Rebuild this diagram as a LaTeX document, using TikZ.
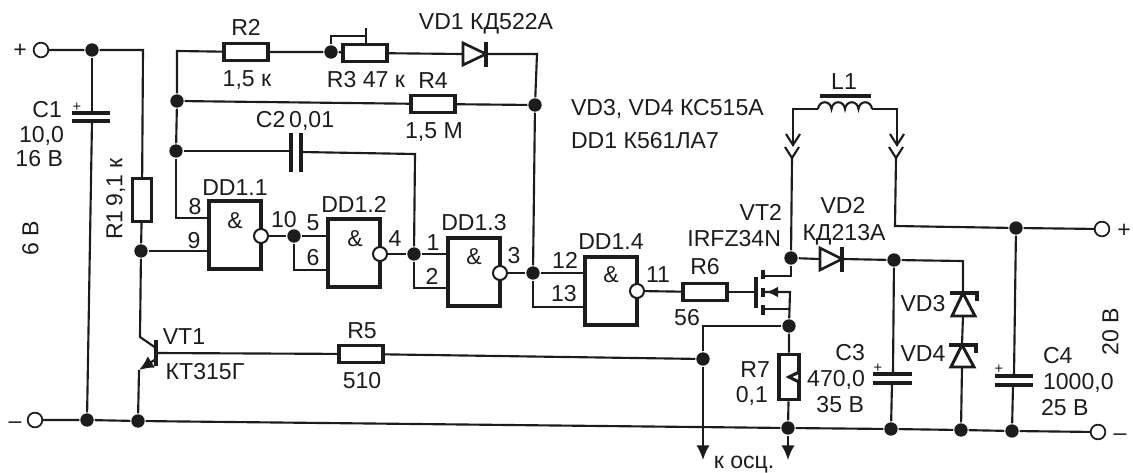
\documentclass[tikz,border=0pt]{standalone}
\usepackage{fontspec}
\setmainfont{Liberation Sans}
\usetikzlibrary{arrows.meta}
\definecolor{ink}{HTML}{1C1C1C}
\begin{document}
\begin{tikzpicture}[x=0.75pt,y=-0.75pt,line width=1.6pt,draw=ink,
    dotnode/.style = {circle, fill=ink, inner sep=0pt, minimum size=10pt},
    termnode/.style = {circle, draw, fill=white, inner sep=0pt, minimum size=11pt, line width=1.3pt},
    bubnode/.style = {circle, draw, fill=white, inner sep=0pt, minimum size=10.5pt, line width=1.5pt},
    resh/.style = {draw, inner sep=0pt, minimum width=33pt, minimum height=13pt, line width=2.4pt},
    resv/.style = {draw, inner sep=0pt, minimum width=14pt, minimum height=32pt, line width=2.4pt},
    gatebox/.style = {draw, inner sep=0pt, minimum width=39pt, minimum height=51pt, line width=2.6pt},
    plate/.style = {line width=2.6pt},
    lbl/.style = {text=ink, inner sep=0pt, font=\fontsize{17.3}{19}\selectfont, text height=12.4pt, text depth=0pt},
    tip/.style = {-{Latex[length=11pt,width=10pt]}}]
    \useasboundingbox (0,0) rectangle (1133,472);

    % terminals and junctions
    \node[termnode] (tpl) at (41,50) {};
    \node[termnode] (tml) at (35,420) {};
    \node[termnode] (tpr) at (1102,229) {};
    \node[termnode] (tmr) at (1098,432) {};
    \node[dotnode] (dc1t) at (92,50) {};
    \node[dotnode] (dc1b) at (87,420) {};
    \node[dotnode] (dr1) at (141,251) {};
    \node[dotnode] (dvt1) at (138,421) {};
    \node[dotnode] (dr3) at (331,52) {};
    \node[dotnode] (dr4) at (177,101) {};
    \node[dotnode] (dc2) at (176,151) {};
    \node[dotnode] (dfb) at (535,105) {};
    \node[dotnode] (dg1) at (294,236) {};
    \node[dotnode] (dg2) at (414,254) {};
    \node[dotnode] (dg3) at (533,273) {};
    \node[dotnode] (dvt2) at (791,258) {};
    \node[dotnode] (ds) at (789,326) {};
    \node[dotnode] (dr5) at (703,359) {};
    \node[dotnode] (dr7) at (788,428) {};
    \node[dotnode] (dc3t) at (894,260) {};
    \node[dotnode] (dc3b) at (891,429) {};
    \node[dotnode] (dz) at (961,430) {};
    \node[dotnode] (dc4t) at (1016,228) {};
    \node[dotnode] (dc4b) at (1012,431) {};

    % resistors
    \node[resv] (R1) at (142,200) {};
    \node[resh] (R2) at (246,52) {};
    \node[resh] (R3) at (365,53) {};
    \node[resh] (R4) at (433,104) {};
    \node[resh] (R5) at (361,354) {};
    \node[resh] (R6) at (705,292) {};
    \node[resv, minimum width=15pt, minimum height=34pt] (R7) at (789,377) {};

    % gates
    \node[gatebox] (G1) at (235,235) {};
    \node[gatebox] (G2) at (354,253) {};
    \node[gatebox] (G3) at (474,272) {};
    \node[gatebox] (G4) at (611,291) {};
    \node[bubnode] (B1) at (261,236) {};
    \node[bubnode] (B2) at (380,254) {};
    \node[bubnode] (B3) at (500,273) {};
    \node[bubnode] (B4) at (637,291) {};
    \coordinate (G1a) at (208,218);
    \coordinate (G1b) at (208,251);
    \coordinate (G2a) at (328,236);
    \coordinate (G2b) at (328,270);
    \coordinate (G3a) at (448,254);
    \coordinate (G3b) at (448,288);
    \coordinate (G4a) at (584,273);
    \coordinate (G4b) at (584,307);

    % top part
    \coordinate (ctr) at (143,50);
    \coordinate (ctl) at (177,51);
    \coordinate (cd1) at (537,54);
    \coordinate (vd1a) at (463,54);
    \coordinate (vd1k) at (486,54);
    \coordinate (cc2) at (415,154);
    \coordinate (c2a) at (291,151);
    \coordinate (c2b) at (301,152);
    \draw (tpl) -- (dc1t) -- (ctr) -- (R1);
    \draw (R1) -- (dr1);
    \draw (R2) -- (ctl) -- (dr4);
    \draw (dr4) -- (dc2);
    \draw (dc2) |- (G1a);
    \draw (dr1) -- (G1b);
    \draw (R2) -- (dr3) -- (R3) -- (vd1a);
    \draw (vd1k) -- (cd1) -- (dfb);
    \draw (dr4) -- (R4) -- (dfb);
    \draw (dfb) -- (dg3);
    \draw (dc2) -- (c2a);
    \draw (c2b) -- (cc2) -- (dg2);
    \draw[plate] (291,133) -- (291,172);
    \draw[plate] (301,133) -- (301,172);
    \draw[fill=white, line width=2pt, line join=miter] (vd1a) -- (463,43) -- (vd1k) -- (463,65) -- cycle;
    \draw[plate] (486,42) -- (486,67);

    % R3 slider
    \coordinate (r3s) at (366,36);
    \draw[line width=1.2pt] (dr3) -- (331,36) -- (r3s);
    \draw[line width=1.2pt] (366,28) -- (366,44);

    % gate wiring
    \draw (B1) -- (dg1) -- (G2a);
    \draw (dg1) |- (G2b);
    \draw (B2) -- (dg2) -- (G3a);
    \draw (dg2) |- (G3b);
    \draw (B3) -- (dg3) -- (G4a);
    \draw (dg3) |- (G4b);
    \draw (B4) -- (R6);

    % C1 and rail
    \draw (dc1t) -- (92,113);
    \draw (92,121) -- (dc1b);
    \draw[plate] (72,113) -- (110,113);
    \draw[plate] (72,121) -- (110,121);
    \draw (tml) -- (dc1b) -- (dvt1) -- (dr7) -- (dc3b) -- (dz) -- (dc4b) -- (tmr);

    % VT1
    \coordinate (vt1c) at (140,337);
    \coordinate (vt1i) at (156,348);
    \coordinate (vt1o) at (156,359);
    \coordinate (vt1e) at (139,370);
    \coordinate (vt1b) at (156,353);
    \draw (dr1) -- (vt1c) -- (vt1i);
    \draw[tip] (vt1o) -- (vt1e);
    \draw (vt1e) -- (dvt1);
    \draw[plate] (156,340) -- (156,366);
    \draw (vt1b) -- (R5);
    \draw (R5) -- (dr5);

    % VT2
    \coordinate (vt2g) at (756,292);
    \coordinate (vt2d) at (763,276);
    \coordinate (vt2m) at (763,292);
    \coordinate (vt2s) at (763,309);
    \coordinate (vt2dc) at (791,276);
    \coordinate (vt2mc) at (790,292);
    \coordinate (vt2sc) at (790,309);
    \draw (R6) -- (vt2g);
    \draw[plate] (756,277) -- (756,308);
    \draw[plate] (763,270) -- (763,279);
    \draw[plate] (763,288) -- (763,297);
    \draw[plate] (763,305) -- (763,315);
    \draw (vt2d) -- (vt2dc) -- (dvt2);
    \draw (vt2s) -- (vt2sc);
    \draw (vt2m) -- (vt2mc) -- (ds);
    \draw[-{Latex[length=9pt,width=8pt]}] (778,292) -- (766,292);
    \coordinate (cosc) at (703,326);
    \coordinate (oscl) at (703,460);
    \coordinate (oscr) at (788,460);
    \draw (ds) -- (cosc) -- (dr5);
    \draw[tip] (dr5) -- (oscl);
    \draw (ds) -- (R7) -- (dr7);
    \draw[tip] (dr7) -- (oscr);
    \draw[fill=ink] (788,377) -- (798,372) -- (798,382) -- cycle;
    \fill[white] (792.5,377) -- (798,374.5) -- (798,379.5) -- cycle;

    % L1
    \coordinate (L1a) at (818,109);
    \coordinate (L1b) at (872,109);
    \coordinate (cl1) at (793,109);
    \coordinate (cl2) at (897,109);
    \coordinate (chla) at (793,145);
    \coordinate (chlb) at (792,158);
    \coordinate (chra) at (897,145);
    \coordinate (chrb) at (896,158);
    \coordinate (cout) at (895,226);
    \draw (L1a) .. controls +(1,-9) and +(-1,-9) .. ++(13.5,0)
        .. controls +(1,-9) and +(-1,-9) .. ++(13.5,0)
        .. controls +(1,-9) and +(-1,-9) .. ++(13.5,0)
        .. controls +(1,-9) and +(-1,-9) .. (L1b);
    \draw[plate] (820,96) -- (871,96);
    \draw (L1a) -- (cl1) -- (chla);
    \draw (L1b) -- (cl2) -- (chra);
    \draw (chla) ++(-7,-11) -- (chla) -- ++(7,-11);
    \draw (chra) ++(-7,-11) -- (chra) -- ++(7,-11);
    \draw (chlb) ++(-7,-11) -- (chlb) -- ++(7,-11);
    \draw (chrb) ++(-7,-11) -- (chrb) -- ++(7,-11);
    \draw (chlb) -- (dvt2);
    \draw (chrb) -- (cout) -- (dc4t) -- (tpr);

    % VD2, C3, C4, zeners
    \coordinate (vd2a) at (820,259);
    \coordinate (vd2k) at (842,259);
    \coordinate (cvz) at (963,261);
    \coordinate (vd3k) at (963,293);
    \coordinate (vd3a) at (963,316);
    \coordinate (vd4k) at (962,345);
    \coordinate (vd4a) at (962,367);
    \draw (dvt2) -- (vd2a);
    \draw (vd2k) -- (dc3t) -- (cvz) -- (vd3k);
    \draw[fill=white, line width=2pt] (vd2a) -- (820,248) -- (vd2k) -- (820,270) -- cycle;
    \draw[plate] (842,247) -- (842,272);
    \draw (dc3t) -- (893,374);
    \draw (892,383) -- (dc3b);
    \draw[plate] (873,374) -- (912,374);
    \draw[plate] (873,383) -- (912,383);
    \draw (dc4t) -- (1014,376);
    \draw (1013,385) -- (dc4b);
    \draw[plate] (995,376) -- (1033,376);
    \draw[plate] (995,385) -- (1033,385);
    \draw (vd3a) -- (vd4k);
    \draw (vd4a) -- (dz);
    \draw[fill=white, line width=2.2pt] (vd3k) -- (952,316) -- (975,316) -- cycle;
    \draw[plate] (950,293) -- (977,293) -- (977,301);
    \draw[fill=white, line width=2.2pt] (vd4k) -- (951,367) -- (974,367) -- cycle;
    \draw[plate] (949,345) -- (976,345) -- (976,353);

    % labels
    \node[lbl] (lpl) at (20,49) {+};
    \node[lbl] (lml) at (15,420) {–};
    \node[lbl] (lpr) at (1124,229) {+};
    \node[lbl] (lmr) at (1120,432) {–};
    \node[lbl] (lc1p) at (77,103) {\fontsize{11}{12}\selectfont +};
    \node[lbl,anchor=east] (lc1) at (63,109) {C1};
    \node[lbl,anchor=east] (lc1a) at (65,134) {10,0};
    \node[lbl,anchor=east] (lc1b) at (64,158) {16 В};
    \node[lbl,rotate=90] (lsix) at (30,238) {6 В};
    \node[lbl,rotate=90] (lr1) at (114,199) {R1\,9,1 к};
    \node[lbl] (lr2) at (246,27) {R2};
    \node[lbl] (lr2v) at (247,78) {1,5 к};
    \node[lbl] (lr3) at (366,79) {R3 47 к};
    \node[lbl] (lvd1) at (486,21) {VD1 КД522А};
    \node[lbl] (lr4) at (433,80) {R4};
    \node[lbl] (lr4v) at (434,130) {1,5 М};
    \node[lbl] (lc2) at (295,119) {C2\,0,01};
    \node[lbl,anchor=west] (lvd34) at (570,107) {VD3, VD4 КС515А};
    \node[lbl,anchor=west] (ldd1) at (570,140) {DD1 К561ЛА7};
    \node[lbl] (lg1) at (235,187) {DD1.1};
    \node[lbl] (lg2) at (354,204) {DD1.2};
    \node[lbl] (lg3) at (474,222) {DD1.3};
    \node[lbl] (lg4) at (611,241) {DD1.4};
    \node[lbl] (la1) at (235,220) {\&};
    \node[lbl] (la2) at (355,238) {\&};
    \node[lbl] (la3) at (474,256) {\&};
    \node[lbl] (la4) at (611,274) {\&};
    \node[lbl] (p8) at (195,206) {8};
    \node[lbl] (p9) at (194,240) {9};
    \node[lbl] (p10) at (284,219) {10};
    \node[lbl] (p5) at (313,222) {5};
    \node[lbl] (p6) at (313,257) {6};
    \node[lbl] (p4) at (395,238) {4};
    \node[lbl] (p1) at (433,242) {1};
    \node[lbl] (p2) at (432,276) {2};
    \node[lbl] (p3) at (514,255) {3};
    \node[lbl] (p12) at (565,260) {12};
    \node[lbl] (p13) at (564,293) {13};
    \node[lbl] (p11) at (658,274) {11};
    \node[lbl] (lr6) at (705,266) {R6};
    \node[lbl] (lr6v) at (687,317) {56};
    \node[lbl] (lvt1) at (184,336) {VT1};
    \node[lbl] (lvt1t) at (205,371) {КТ315Г};
    \node[lbl] (lr5) at (362,330) {R5};
    \node[lbl] (lr5v) at (362,380) {510};
    \node[lbl,anchor=east] (lvt2) at (783,212) {VT2};
    \node[lbl,anchor=east] (lvt2t) at (782,238) {IRFZ34N};
    \node[lbl] (lvd2) at (843,205) {VD2};
    \node[lbl] (lvd2t) at (844,232) {КД213А};
    \node[lbl] (ll1) at (844,81) {L1};
    \node[lbl,anchor=east] (lr7) at (771,369) {R7};
    \node[lbl,anchor=east] (lr7v) at (769,394) {0,1};
    \node[lbl,anchor=east] (lc3) at (866,352) {C3};
    \node[lbl,anchor=east] (lc3a) at (866,378) {470,0};
    \node[lbl,anchor=east] (lc3b) at (865,404) {35 В};
    \node[lbl] (lc3p) at (878,364) {\fontsize{11}{12}\selectfont +};
    \node[lbl] (lc4p) at (999,365) {\fontsize{11}{12}\selectfont +};
    \node[lbl,anchor=west] (lc4) at (1042,355) {C4};
    \node[lbl,anchor=west] (lc4a) at (1042,381) {1000,0};
    \node[lbl,anchor=west] (lc4b) at (1040,407) {25 В};
    \node[lbl,rotate=90] (ltw) at (1110,332) {20 В};
    \node[lbl] (lvd3) at (923,303) {VD3};
    \node[lbl] (lvd4) at (923,353) {VD4};
    \node[lbl] (losc) at (744,460) {к осц.};
\end{tikzpicture}
\end{document}
